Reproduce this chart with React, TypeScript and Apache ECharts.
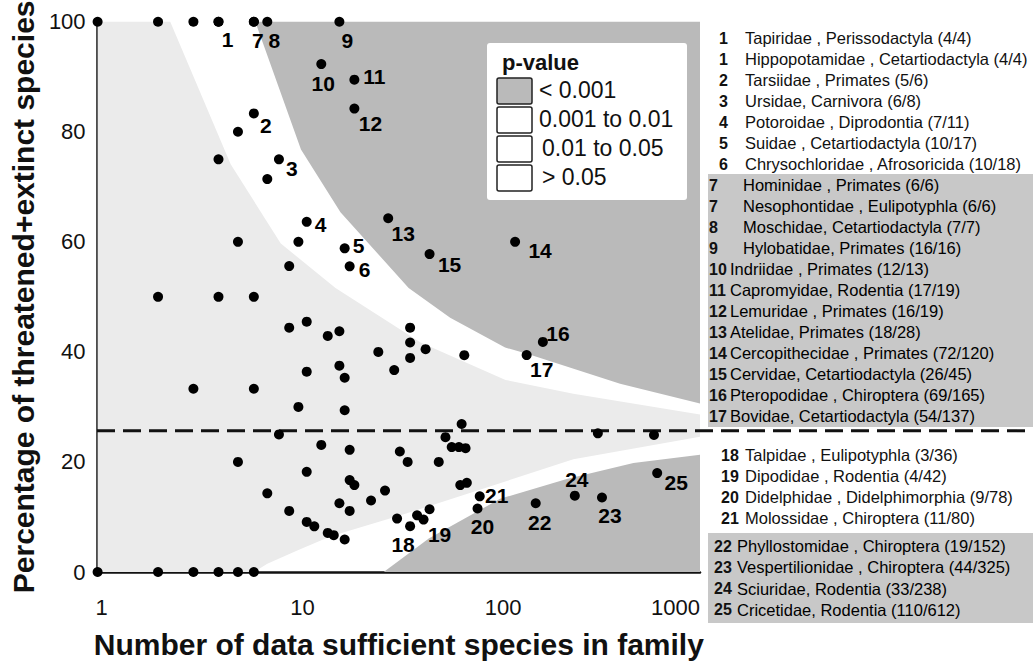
import React, { useEffect, useRef } from "react";
import * as echarts from "echarts";

// ---------- DATA ----------
// Numbered families (list at right + labelled points)
const listNumbers = ["1", "1", "2", "3", "4", "5", "6", "7", "7", "8", "9", "10", "11", "12", "13", "14", "15", "16", "17", "18", "19", "20", "21", "22", "23", "24", "25"];
const familyLabels = [
  "Tapiridae , Perissodactyla",
  "Hippopotamidae , Cetartiodactyla",
  "Tarsiidae , Primates",
  "Ursidae, Carnivora",
  "Potoroidae , Diprodontia",
  "Suidae , Cetartiodactyla",
  "Chrysochloridae , Afrosoricida",
  "Hominidae , Primates",
  "Nesophontidae , Eulipotyphla",
  "Moschidae, Cetartiodactyla",
  "Hylobatidae, Primates",
  "Indriidae , Primates",
  "Capromyidae, Rodentia",
  "Lemuridae , Primates",
  "Atelidae, Primates",
  "Cercopithecidae , Primates",
  "Cervidae, Cetartiodactyla",
  "Pteropodidae , Chiroptera",
  "Bovidae, Cetartiodactyla",
  "Talpidae , Eulipotyphla",
  "Dipodidae , Rodentia",
  "Didelphidae , Didelphimorphia",
  "Molossidae , Chiroptera",
  "Phyllostomidae , Chiroptera",
  "Vespertilionidae , Chiroptera",
  "Sciuridae, Rodentia",
  "Cricetidae, Rodentia",
];
const threatenedCounts = [4, 4, 5, 6, 7, 10, 10, 6, 6, 7, 16, 12, 17, 16, 18, 72, 26, 69, 54, 3, 4, 9, 11, 19, 44, 33, 110];
const totalCounts = [4, 4, 6, 8, 11, 17, 18, 6, 6, 7, 16, 13, 19, 19, 28, 120, 45, 165, 137, 36, 42, 78, 80, 152, 325, 238, 612];

// Other (unnumbered) families: species count and % threatened+extinct
const otherSizes = [1, 2, 3, 5, 4, 7, 5, 10, 9, 2, 4, 6, 9, 11, 14, 16, 36, 36, 43, 36, 67, 25, 30, 11, 16, 17, 3, 6, 10, 17, 65, 8, 13, 18, 54, 58, 63, 68, 32, 35, 50, 5, 11, 18, 19, 27, 23, 16, 18, 64, 69, 7, 9, 11, 12, 14, 15, 17, 31, 39, 45, 310, 590, 1, 2, 3, 4, 5, 6];
const otherPercents = [100, 100, 100, 80, 75, 71.4, 60, 60, 55.6, 50, 50, 50, 44.4, 45.5, 42.9, 43.75, 44.4, 41.7, 40.5, 38.9, 39.4, 40, 36.7, 36.4, 37.5, 35.3, 33.3, 33.3, 30, 29.4, 26.9, 25, 23.1, 22.2, 24.5, 22.7, 22.7, 22.5, 21.9, 20, 20, 20, 18.2, 16.7, 15.8, 14.8, 13, 12.5, 11.1, 15.8, 16.2, 14.3, 11.1, 9.1, 8.3, 7.1, 6.7, 5.9, 9.7, 10.3, 11.4, 25.2, 24.9, 0, 0, 0, 0, 0, 0];

// Overall proportion threatened (dashed reference line)
const overallPercent = 26.3;

// p-value region boundaries
const darkUpperSizes = [6.1, 10.3, 16.2, 35.4, 57, 107, 139, 400, 1000, 1000];
const darkUpperPercents = [100, 76.8, 65.4, 51.6, 46.2, 40.8, 39.6, 34.2, 30.6, 100];
const darkLowerSizes = [26.6, 44.6, 101, 217, 466, 1000, 1000];
const darkLowerPercents = [0, 6.1, 13.3, 16.9, 19.8, 21.3, 0];
const nsSizes = [1, 2.3, 4.6, 8.17, 15.3, 40.6, 107.5, 234, 1000, 1000, 234, 72, 32.3, 14.5, 10, 7, 6, 1];
const nsPercents = [100, 100, 74.1, 59.7, 51.6, 41.7, 34.9, 32.4, 28.6, 24.6, 20.5, 14.4, 10.3, 6.5, 4, 1.5, 0, 0];

const xTicks = [1, 10, 100, 1000];
const legendTitle = "p-value";
const legendItems = ["< 0.001", "0.001 to 0.01", "0.01 to 0.05", "> 0.05"];
const xTitle = "Number of data sufficient species in family";
const yTitle = "Percentage of threatened+extinct species";

// ---------- STYLE ----------
const FONT = "Liberation Sans, Arial, Helvetica, sans-serif";
const DARK = "#bababa";
const LIGHT = "#ebebeb";
const INK = "#111111";

const labelOffsets: Record<string, [number, number]> = {
  "1": [9, 18], "2": [12, 12], "3": [13, 9], "4": [14, 3], "5": [14, -3], "6": [15, 3],
  "7": [4, 19], "8": [7, 19], "9": [8, 19], "10": [2, 19], "11": [20, -3], "12": [16, 15],
  "13": [15, 15], "14": [25, 9], "15": [20, 10], "16": [15, -8], "17": [15, 14],
  "18": [-7, 18], "19": [16, 15], "20": [5, 18], "21": [17, -1], "22": [4, 19],
  "23": [8, 18], "24": [2, -16], "25": [19, 9],
};

function rowY(i: number): number {
  if (i <= 18) return 38 + 21 * i;
  if (i <= 22) return 455 + 21 * (i - 19);
  return 546 + 21.3 * (i - 23);
}
function rowIsGray(i: number): boolean {
  return (i >= 7 && i <= 18) || i >= 23;
}

export default function App() {
  const ref = useRef<HTMLDivElement>(null);
  useEffect(() => {
    if (!ref.current) return;
    const chart = echarts.init(ref.current, undefined, { renderer: "svg" });

    const regions = [
      { n: nsSizes, p: nsPercents, fill: LIGHT },
      { n: darkUpperSizes, p: darkUpperPercents, fill: DARK },
      { n: darkLowerSizes, p: darkLowerPercents, fill: DARK },
    ];

    const seen = new Set<string>();
    const labelled = totalCounts.map((tot, i) => {
      const num = listNumbers[i];
      const first = !seen.has(num);
      seen.add(num);
      const off = labelOffsets[num] || [10, 10];
      return {
        value: [tot, (100 * threatenedCounts[i]) / tot],
        label: {
          show: first,
          formatter: num,
          position: "inside",
          offset: off,
          fontSize: 21,
          fontWeight: "bold",
          fontFamily: FONT,
          color: "#000",
          textBorderWidth: 0,
        },
      };
    });
    const others = otherSizes.map((n, i) => [n, otherPercents[i]]);

    const graphics: any[] = [];
    // list gray backgrounds
    graphics.push({ type: "rect", shape: { x: 708, y: 174, width: 325, height: 253 }, style: { fill: "#c8c8c8" }, z: 1 });
    graphics.push({ type: "rect", shape: { x: 708, y: 533, width: 325, height: 90 }, style: { fill: "#c8c8c8" }, z: 1 });
    listNumbers.forEach((num, i) => {
      const y = rowY(i);
      let numX = 719, textX = 745;
      if (i >= 7 && i <= 18) { numX = 709; textX = num.length > 1 ? 730 : 743; }
      else if (i >= 19 && i <= 22) { numX = 721; textX = 745; }
      else if (i >= 23) { numX = 714; textX = 737; }
      graphics.push({
        type: "text", x: numX, y, z: 5,
        style: { text: num, fill: INK, font: `bold 16px ${FONT}`, textAlign: "left", textVerticalAlign: "middle", align: "left", verticalAlign: "middle" },
      });
      graphics.push({
        type: "text", x: textX, y, z: 5,
        style: {
          text: `${familyLabels[i]} (${threatenedCounts[i]}/${totalCounts[i]})`,
          fill: rowIsGray(i) ? "#000" : INK,
          font: `16.5px ${FONT}`, textAlign: "left", textVerticalAlign: "middle", align: "left", verticalAlign: "middle",
        },
      });
    });
    // legend
    graphics.push({ type: "rect", shape: { x: 487, y: 43, width: 200, height: 157, r: 3 }, style: { fill: "#ffffff" }, z: 20 });
    graphics.push({
      type: "text", x: 502, y: 62, z: 21,
      style: { text: legendTitle, fill: INK, font: `bold 22px ${FONT}`, textAlign: "left", textVerticalAlign: "middle", align: "left", verticalAlign: "middle" },
    });
    legendItems.forEach((t, i) => {
      const y = 78 + 29 * i;
      graphics.push({
        type: "rect", z: 21, shape: { x: 497, y, width: 35, height: 26, r: 2 },
        style: { fill: i === 0 ? DARK : "#ffffff", stroke: "#222", lineWidth: 1.5 },
      });
      graphics.push({
        type: "text", x: 539 + (i >= 2 ? 3 : 0), y: y + 12, z: 21,
        style: { text: t, fill: INK, font: `23px ${FONT}`, textAlign: "left", textVerticalAlign: "middle", align: "left", verticalAlign: "middle" },
      });
    });

    const option: any = {
      animation: false,
      backgroundColor: "#ffffff",
      grid: [
        { left: 97, right: 333, top: 21, bottom: 87 },
        { left: 97, right: 0, top: 21, bottom: 87 },
      ],
      xAxis: [
        {
          type: "log", logBase: 10, min: xTicks[0], max: xTicks[xTicks.length - 1], gridIndex: 0,
          axisLine: { onZero: false, lineStyle: { color: INK, width: 2.5 } },
          axisTick: { show: false },
          splitLine: { show: false },
          axisLabel: {
            fontSize: 22, color: INK, fontFamily: FONT, margin: 24, alignMaxLabel: "right", padding: [0, 0, 0, 8],
            formatter: (v: number) => String(Math.round(v)),
          },
          name: xTitle, nameLocation: "middle", nameGap: 57,
          nameTextStyle: { fontSize: 30, fontWeight: "bold", color: INK, fontFamily: FONT },
        },
        { type: "value", min: 0, max: 1, gridIndex: 1, show: false },
      ],
      yAxis: [
        {
          type: "value", min: 0, max: 100, interval: 20, gridIndex: 0,
          axisLine: { show: true, onZero: false, lineStyle: { color: INK, width: 2.5 } },
          axisTick: { show: false },
          splitLine: { show: false },
          axisLabel: { fontSize: 22, color: INK, fontFamily: FONT, margin: 12 },
          name: yTitle, nameLocation: "middle", nameGap: 58,
          nameTextStyle: { fontSize: 30, fontWeight: "bold", color: INK, fontFamily: FONT },
        },
        { type: "value", min: 0, max: 100, gridIndex: 1, show: false },
      ],
      graphic: graphics,
      series: [
        {
          type: "custom", xAxisIndex: 0, yAxisIndex: 0, silent: true, z: 1,
          data: regions.map((_, i) => [10, 50, i]),
          encode: { x: 0, y: 1 },
          renderItem: (params: any, api: any) => {
            const r = regions[api.value(2)];
            const points = r.n.map((n: number, k: number) => api.coord([n, r.p[k]]));
            return { type: "polygon", shape: { points }, style: { fill: r.fill } };
          },
        },
        {
          type: "line", xAxisIndex: 1, yAxisIndex: 1, z: 3, silent: true,
          data: [[0, overallPercent], [1, overallPercent]],
          symbol: "none",
          lineStyle: { color: INK, width: 3, type: [18, 8] },
        },
        {
          type: "scatter", xAxisIndex: 0, yAxisIndex: 0, z: 5, clip: false,
          symbolSize: 10, itemStyle: { color: "#000", opacity: 1 },
          data: others,
        },
        {
          type: "scatter", xAxisIndex: 0, yAxisIndex: 0, z: 6, clip: false,
          symbolSize: 10, itemStyle: { color: "#000", opacity: 1 },
          data: labelled,
        },
      ],
    };
    chart.setOption(option);
    return () => chart.dispose();
  }, []);

  return (
    <div
      ref={ref}
      style={{ position: "fixed", left: 0, top: 0, width: 1033, height: 664, background: "#fff" }}
    />
  );
}
